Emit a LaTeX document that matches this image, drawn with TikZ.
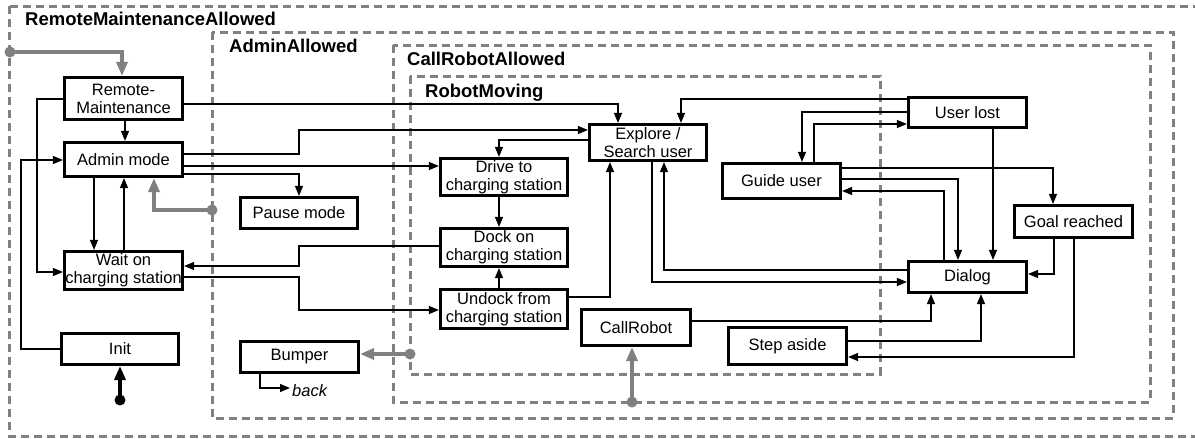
\documentclass[tikz,border=0pt]{standalone}
\usepackage{fontspec}
\setmainfont{Liberation Sans}
\usetikzlibrary{arrows.meta}
\definecolor{frameg}{RGB}{128,128,128}
\tikzset{
  box/.style={draw=black, line width=3.2pt, fill=white, inner sep=0pt, align=center,
    font=\fontsize{16.5}{18}\selectfont},
  frame/.style={draw=frameg, line width=3pt, dash pattern=on 8pt off 5pt},
  ftitle/.style={anchor=base west, inner sep=0pt, font=\fontsize{18.5}{20}\selectfont\bfseries},
  conn/.style={draw=black, line width=1.3pt, -{Triangle[length=10pt,width=8pt]}},
  gconn/.style={draw=frameg, line width=3.2pt, -{Triangle[length=14pt,width=11pt]}},
  startarr/.style={draw=black, line width=3.2pt, -{Triangle[length=14pt,width=11pt]}},
  gdot/.style={fill=frameg},
}
\begin{document}
\begin{tikzpicture}[x=1pt,y=-1pt]
\useasboundingbox (0,0) rectangle (1195,439);
\clip (0,0) rectangle (1195,439);
% frames
\draw[frame] (9,6) rectangle (1215,436);
\draw[frame] (212,32) rectangle (1173,418);
\draw[frame] (393,45) rectangle (1150,402);
\draw[frame] (410,76) rectangle (880,374);
\node[ftitle] (t1) at (25,25) {RemoteMaintenanceAllowed};
\node[ftitle] (t2) at (229,52) {AdminAllowed};
\node[ftitle] (t3) at (407,65) {CallRobotAllowed};
\node[ftitle] (t4) at (425,97) {RobotMoving};
% nodes
\node[box, minimum width=118pt, minimum height=42pt] (rm) at (123.5,98.5) {Remote-\\Maintenance};
\node[box, minimum width=118pt, minimum height=34pt] (admin) at (123.5,159.5) {Admin mode};
\node[box, minimum width=118pt, minimum height=38pt] (wait) at (123.5,270.5) {Wait on\\charging station};
\node[box, minimum width=117pt, minimum height=31pt] (init) at (120,349) {Init};
\node[box, minimum width=117pt, minimum height=31pt] (pause) at (299,213) {Pause mode};
\node[box, minimum width=118pt, minimum height=31pt] (bumper) at (299.5,357) {Bumper};
\node[box, minimum width=127pt, minimum height=37pt] (drive) at (504,177) {Drive to\\charging station};
\node[box, minimum width=127pt, minimum height=38pt] (dock) at (504,247.5) {Dock on\\charging station};
\node[box, minimum width=127pt, minimum height=39pt] (undock) at (504,309) {Undock from\\charging station};
\node[box, minimum width=117pt, minimum height=36pt] (explore) at (648,142.5) {Explore /\\Search user};
\node[box, minimum width=109pt, minimum height=36pt] (callrobot) at (636,327.5) {CallRobot};
\node[box, minimum width=118pt, minimum height=35pt] (guide) at (781.5,181) {Guide user};
\node[box, minimum width=118pt, minimum height=30pt] (userlost) at (967.5,112.5) {User lost};
\node[box, minimum width=118pt, minimum height=32pt] (goal) at (1073.5,221.5) {Goal reached};
\node[box, minimum width=118pt, minimum height=31pt] (dialog) at (967.5,277) {Dialog};
\node[box, minimum width=118pt, minimum height=37pt] (stepaside) at (787.5,346) {Step aside};
% start points
\coordinate (initdot) at (120,400);
\coordinate (gdotrm) at (10,52);
\coordinate (gdotadmin) at (212,210);
\coordinate (gdotcall) at (632,402);
\coordinate (gdotbump) at (410,354);
\coordinate (backtip) at (290,388);
% initial
\draw[startarr] (initdot) -- (init.south);
\fill (initdot) circle (5.5pt);
% gray arrows
\draw[gconn] (gdotrm) -| (rm.north -| 122,0);
\draw[gconn] (gdotadmin) -| (admin.south -| 154,0);
\draw[gconn] (gdotcall) -- (callrobot.south -| 632,0);
\draw[gconn] (gdotbump) -- (bumper.east |- 0,354);
\foreach \p in {gdotrm,gdotadmin,gdotcall,gdotbump} \fill[gdot] (\p) circle (5.5pt);
% connectors
\draw[conn] (init.west) -- (21,349) |- (admin.west |- 0,160);
\draw[conn] (rm.west |- 0,99) -- (37,99) |- (wait.west |- 0,272);
\draw[conn] (rm.south -| 125,0) -- (admin.north -| 125,0);
\draw[conn] (admin.south -| 94,0) -- (wait.north -| 94,0);
\draw[conn] (wait.north -| 124,0) -- (admin.south -| 124,0);
\draw[conn] (rm.east |- 0,104) -| (explore.north -| 618,0);
\draw[conn] (admin.east |- 0,154) -- (299,154) |- (explore.west |- 0,130);
\draw[conn] (admin.east |- 0,166) -- (drive.west |- 0,166);
\draw[conn] (admin.east |- 0,174) -| (pause.north);
\draw[conn] (dock.west |- 0,246) -- (299,246) |- (wait.east |- 0,266);
\draw[conn] (wait.east |- 0,277) -- (299,277) |- (undock.west |- 0,310);
\draw[conn] (drive.south -| 499,0) -- (dock.north -| 499,0);
\draw[conn] (undock.north -| 499,0) -- (dock.south -| 499,0);
\draw[conn] (explore.west |- 0,140) -| (drive.north -| 499,0);
\draw[conn] (undock.east |- 0,297) -| (explore.south -| 610,0);
\draw[conn] (explore.south -| 652,0) |- (dialog.west |- 0,282);
\draw[conn] (dialog.west |- 0,270) -| (explore.south -| 664,0);
\draw[conn] (userlost.west |- 0,99) -| (explore.north -| 681,0);
\draw[conn] (userlost.west |- 0,112) -| (guide.north -| 802,0);
\draw[conn] (guide.north -| 814,0) |- (userlost.west |- 0,124);
\draw[conn] (guide.east |- 0,168) -| (goal.north -| 1053,0);
\draw[conn] (guide.east |- 0,179) -| (dialog.north -| 958,0);
\draw[conn] (dialog.north -| 944,0) |- (guide.east |- 0,191);
\draw[conn] (userlost.south -| 993,0) -- (dialog.north -| 993,0);
\draw[conn] (goal.south -| 1054,0) |- (dialog.east |- 0,274);
\draw[conn] (goal.south -| 1074,0) |- (stepaside.east |- 0,357);
\draw[conn] (stepaside.east |- 0,341) -| (dialog.south -| 981,0);
\draw[conn] (callrobot.east |- 0,321) -| (dialog.south -| 931,0);
\draw[conn] (bumper.south -| 260,0) |- (backtip);
\node[anchor=west, inner sep=0pt, font=\fontsize{16.5}{18}\selectfont\itshape] (back) at (292,391) {back};
\end{tikzpicture}
\end{document}
